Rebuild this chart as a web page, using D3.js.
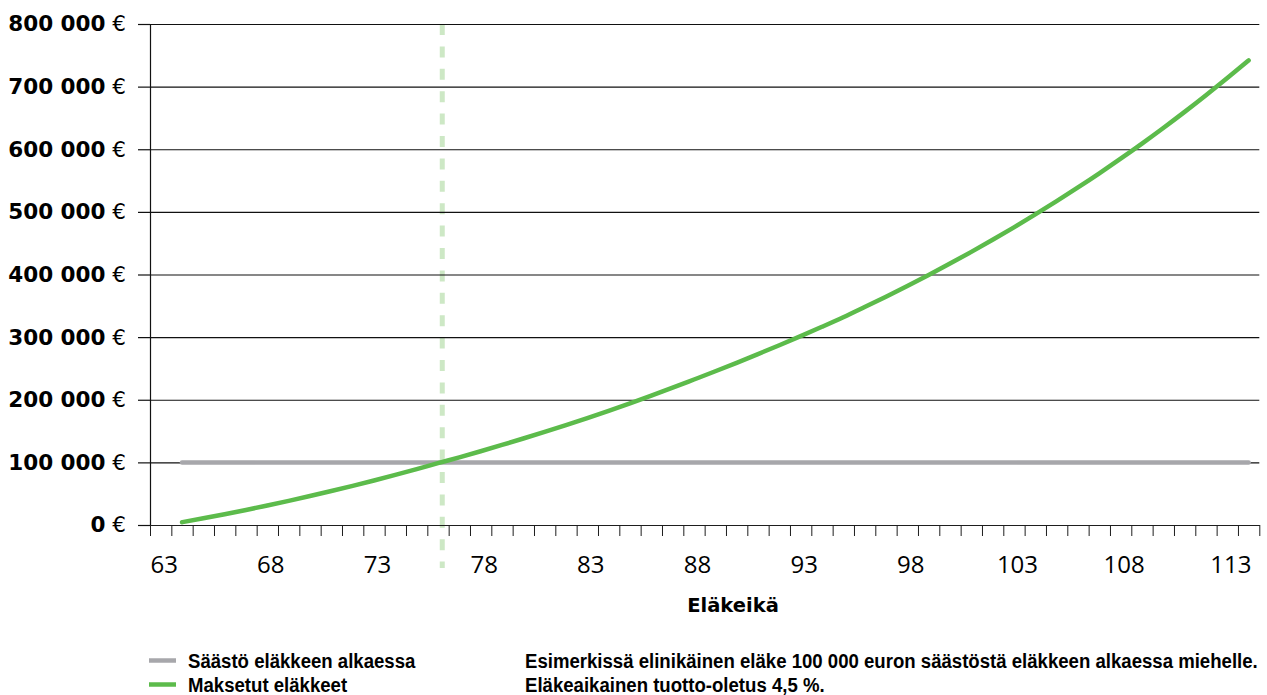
<!DOCTYPE html>
<html>
<head>
<meta charset="utf-8">
<script src="https://cdn.jsdelivr.net/npm/d3@7"></script>
<style>
  body { margin: 0; background: #fff; }
  .ylab { font-family: "DejaVu Sans", sans-serif; font-size: 21.5px; fill: #000; }
  .xlab { font-family: "Open Sans", sans-serif; font-size: 24px; fill: #000; }
  .xtitle { font-family: "DejaVu Sans", sans-serif; font-size: 19.5px; font-weight: bold; }
  .legend { font-family: "Liberation Sans", Arial, sans-serif; font-size: 21px; font-weight: bold; }
</style>
</head>
<body>
<div id="container"></div>
<script>

let w = 1267;
let h = 695;

// categories on the x axis (age)
let ages = [63, 64, 65, 66, 67, 68, 69, 70, 71, 72, 73, 74, 75, 76, 77, 78, 79, 80, 81, 82,
  83, 84, 85, 86, 87, 88, 89, 90, 91, 92, 93, 94, 95, 96, 97, 98, 99, 100, 101, 102,
  103, 104, 105, 106, 107, 108, 109, 110, 111, 112, 113, 114];

// ages that have a value in the two series
let seriesAges = [64, 65, 66, 67, 68, 69, 70, 71, 72, 73, 74, 75, 76, 77, 78, 79, 80, 81, 82,
  83, 84, 85, 86, 87, 88, 89, 90, 91, 92, 93, 94, 95, 96, 97, 98, 99, 100, 101, 102,
  103, 104, 105, 106, 107, 108, 109, 110, 111, 112, 113, 114];

// Säästö eläkkeen alkaessa
let savings = [100000, 100000, 100000, 100000, 100000, 100000, 100000, 100000, 100000, 100000,
  100000, 100000, 100000, 100000, 100000, 100000, 100000, 100000, 100000, 100000,
  100000, 100000, 100000, 100000, 100000, 100000, 100000, 100000, 100000, 100000,
  100000, 100000, 100000, 100000, 100000, 100000, 100000, 100000, 100000, 100000,
  100000, 100000, 100000, 100000, 100000, 100000, 100000, 100000, 100000, 100000, 100000];

// Maksetut eläkkeet
let paidPensions = [4500, 10700, 17200, 24000, 31100, 38500, 46200, 54200, 62500, 71100,
  80000, 89200, 98700, 108100, 117800, 127800, 138100, 148700, 159600, 170800,
  182400, 194300, 206600, 219200, 232300, 245500, 259000, 272900, 287100, 301600,
  316500, 331800, 348000, 364500, 381500, 399200, 417400, 436100, 455400, 475300,
  495900, 517100, 539000, 561600, 585000, 609100, 634000, 659700, 686300, 713700, 741800];

// age where paid pensions reach the savings (dashed line)
let breakEvenAge = 76.2;

let xLabels = [63, 68, 73, 78, 83, 88, 93, 98, 103, 108, 113];
let yTicks = [0, 100000, 200000, 300000, 400000, 500000, 600000, 700000, 800000];

let legendNames = ["Säästö eläkkeen alkaessa", "Maksetut eläkkeet"];
let legendColors = ["#a7a7ab", "#5cbb4b"];
let noteLines = ["Esimerkissä elinikäinen eläke 100 000 euron säästöstä eläkkeen alkaessa miehelle.",
  "Eläkeaikainen tuotto-oletus 4,5 %."];

let plotLeft = 150, plotRight = 1259.3, plotTop = 24, plotBottom = 525;

let viz = d3.select("#container")
  .append("svg")
    .attr("width", w)
    .attr("height", h)
;

//scales

let xScale = d3.scaleBand().domain(ages).range([plotLeft, plotRight]);
let bw = xScale.bandwidth();
let xEdge = d3.scaleLinear()
  .domain([ages[0] - 0.5, ages[ages.length - 1] + 0.5])
  .range([plotLeft, plotRight]);
let yScale = d3.scaleLinear().domain([0, 800000]).range([plotBottom, plotTop]);

//dashed break-even line

let bx = xEdge(breakEvenAge);
viz.append("line")
  .attr("x1", bx).attr("x2", bx)
  .attr("y1", plotTop).attr("y2", 568)
  .attr("stroke", "#cde8c5")
  .attr("stroke-width", 5)
  .attr("stroke-dasharray", "11 11.4");

//grid

let grid = viz.append("g").attr("transform", "translate(" + plotLeft + ",0)")
  .call(d3.axisLeft(yScale).tickValues(yTicks).tickSize(-(plotRight - plotLeft)).tickFormat(""));
grid.select(".domain").remove();
grid.selectAll("line").attr("stroke", "#111").attr("stroke-width", 1.2);

//y axis

let yAxisGroup = viz.append("g").attr("transform", "translate(" + plotLeft + ",0)")
  .call(d3.axisLeft(yScale).tickValues(yTicks).tickSize(12).tickSizeOuter(0).tickPadding(12));
yAxisGroup.attr("font-family", null).attr("font-size", null);
yAxisGroup.selectAll("line, path").attr("stroke", "#111").attr("stroke-width", 1.2);
yAxisGroup.selectAll("text")
  .attr("class", "ylab")
  .each(function(d){
    let t = d3.select(this).text(null);
    t.append("tspan").attr("font-weight", "bold").text(d3.format(",")(d).replace(/,/g, " "));
    t.append("tspan").text(" €");
  });

//x axis ticks at category edges

let edges = ages.map(a => a - 0.5).concat([ages[ages.length - 1] + 0.5]);
let xAxisGroup = viz.append("g").attr("transform", "translate(0," + plotBottom + ")")
  .call(d3.axisBottom(xEdge).tickValues(edges).tickSize(11).tickSizeOuter(0).tickFormat(""));
xAxisGroup.selectAll("line, path").attr("stroke", "#1e1e1e");

let xLabelGroup = viz.append("g").attr("transform", "translate(3," + plotBottom + ")")
  .call(d3.axisBottom(xEdge).tickValues(xLabels).tickSize(0).tickPadding(31));
xLabelGroup.attr("font-family", null).attr("font-size", null);
xLabelGroup.select(".domain").remove();
xLabelGroup.selectAll("text").attr("class", "xlab");

viz.append("text")
  .attr("class", "xtitle")
  .attr("x", 733).attr("y", 612)
  .attr("text-anchor", "middle")
  .text("Eläkeikä");

//the two series

let line = d3.line()
  .x(d => xScale(d[0]) + bw / 2)
  .y(d => yScale(d[1]))
  .curve(d3.curveMonotoneX);

let graphGroup = viz.append("g").classed("graphGroup", true);

graphGroup.append("path")
  .datum(d3.zip(seriesAges, savings))
  .attr("d", line)
  .attr("fill", "none")
  .attr("stroke", legendColors[0])
  .attr("stroke-width", 4.5)
  .attr("stroke-linecap", "round");

graphGroup.append("path")
  .datum(d3.zip(seriesAges, paidPensions))
  .attr("d", line)
  .attr("fill", "none")
  .attr("stroke", legendColors[1])
  .attr("stroke-width", 4.5)
  .attr("stroke-linecap", "round");

//legend and note

let legend = viz.append("g").selectAll("g").data(legendNames).enter().append("g")
  .attr("transform", (d, i) => "translate(149," + (660.5 + i * 24) + ")");
legend.append("line")
  .attr("x1", 0).attr("x2", 27)
  .attr("stroke", (d, i) => legendColors[i])
  .attr("stroke-width", 4.5);
let legendTexts = legend.append("text")
  .attr("class", "legend")
  .text(d => d);

let notes = viz.append("g").selectAll("text").data(noteLines).enter().append("text")
  .attr("class", "legend")
  .text(d => d);

// the original uses a condensed face: squeeze all legend texts by the same factor
let squeeze = 733 / notes.node().getComputedTextLength();
legendTexts.attr("transform", "translate(39,7.5) scale(" + squeeze + ",1)");
notes.attr("transform", (d, i) => "translate(525," + (668 + i * 24) + ") scale(" + squeeze + ",1)");

</script>
</body>
</html>
